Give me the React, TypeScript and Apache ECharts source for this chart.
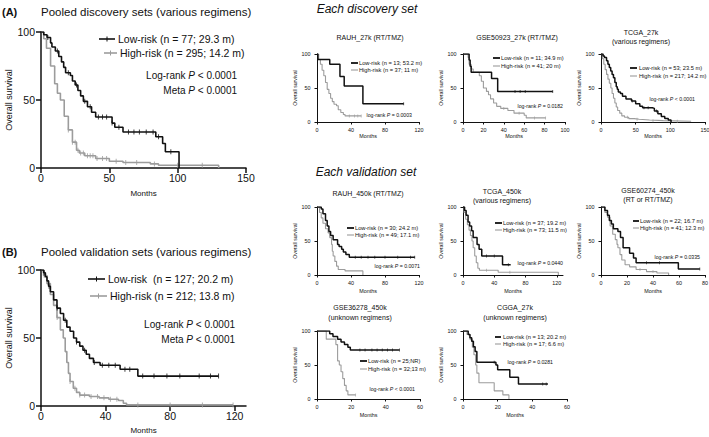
import React, { useEffect, useRef } from "react";
import * as echarts from "echarts";

type Pt = [number, number];

const FONT = "'Liberation Sans', Arial, Helvetica, sans-serif";
const BLACK = "#111111";
const GRAY = "#9c9c9c";

// ---------- tick labels ----------
const Y_TICKS = [0, 50, 100];
const X_TICKS_150 = [0, 50, 100, 150];
const X_TICKS_120 = [0, 40, 80, 120];
const X_TICKS_100 = [0, 20, 40, 60, 80, 100];
const X_TICKS_80 = [0, 20, 40, 60, 80];
const X_TICKS_60 = [0, 20, 40, 60];

// ---------- (A) pooled discovery ----------
const A_LOW: Pt[] = [[0,100],[2,98],[4.4,96],[7,92],[8,89],[10.5,86],[13,82],[15,78],[16.6,74],[18,70],[21.5,68],[23,64],[25,61],[27,57],[29,53],[31,49],[34,45],[37,41],[40,37.5],[52,33],[54,30],[60,26.5],[84,23],[89,18],[91,12],[101,0]];
const A_HIGH: Pt[] = [[0,100],[2,95],[4,88],[7,75],[10,62],[12,55],[14.2,50],[17,38],[20,28],[23,19],[26,13],[28,11],[32,9],[40,7],[50,5],[60,4],[80,3],[86,2],[130,0]];
const A_LOW_CENS = [5, 12, 20, 26, 32, 36, 42, 45, 48, 52, 57, 64, 68, 72, 77, 82, 86, 95];
const A_HIGH_CENS = [20, 23, 25, 27, 29, 31, 34, 36, 38, 41, 45, 48, 55, 62, 70, 83, 100, 118];

// ---------- (B) pooled validation ----------
const B_LOW: Pt[] = [[0,100],[1.6,98],[2.7,95],[3.7,92],[4.7,88],[5.8,84],[7.8,78],[9.9,72],[12,68],[14,63],[16,58],[18,55],[20.2,50],[22,47],[24,44],[26,41],[28,38],[30,35],[32.5,32],[36.6,30],[49,27],[60,22],[110,22]];
const B_HIGH: Pt[] = [[0,100],[1.6,96],[3.7,90],[5.8,82],[7.8,74],[9.9,65],[12,56],[13.8,50],[15,40],[16,32],[17,24],[18,18],[20,13],[22,10],[24,8],[30,7],[36,6],[42,5],[48,4],[51,2],[53,0.8],[119,0.8]];
const B_LOW_CENS = [2, 5, 10, 15, 22, 27, 33, 38, 42, 46, 52, 55, 63, 70, 78, 86, 98, 105, 110];
const B_HIGH_CENS = [2, 10, 18, 21, 24, 27, 31, 35, 39, 43, 47, 60, 80, 100, 119];

// ---------- each discovery set ----------
const RAUH27_LOW: Pt[] = [[0,100],[1,92],[15,85],[27,67],[32,53],[54,27],[102,27]];
const RAUH27_HIGH: Pt[] = [[0,100],[2,92],[4,85],[6,76],[8,68],[10,58],[12,48],[14,42],[16,35],[18,30],[20,26],[23,24],[25,18],[28,14],[31,11],[33,9],[52,9]];
const RAUH27_LOW_CENS = [102];
const RAUH27_HIGH_CENS = [38, 44, 48, 52];

const GSE50923_LOW: Pt[] = [[0,100],[6,91],[7,82],[8,73],[28,64],[34,45],[88,45]];
const GSE50923_HIGH: Pt[] = [[0,100],[5,95],[6,85],[8,78],[10,73],[16,68],[18,60],[20,50],[23,45],[25,40],[27,34],[30,28],[33,23],[37,20],[44,17],[50,13],[60,10],[62,6],[81,6]];
const GSE50923_LOW_CENS = [51, 56, 61, 88];
const GSE50923_HIGH_CENS = [40, 55, 70, 81];

const TCGA27_LOW: Pt[] = [[0,100],[3,97],[5,95],[8,90],[10,85],[12,80],[14,75],[16,70],[18,65],[20,58],[22,52],[23.5,48],[25,44],[28,42],[31,38],[36,34],[44,31],[50,27],[56,23],[60,21],[74,20],[77,16],[82,12],[87,8],[92,5],[97,3],[101,0]];
const TCGA27_HIGH: Pt[] = [[0,100],[2,93],[4,85],[6,77],[8,70],[10,63],[12,57],[14.2,50],[16,42],[18,35],[20,28],[22,22],[24,17],[27,13],[30,9],[34,7],[40,5],[48,4],[55,3],[70,2],[90,1],[130,1]];
const TCGA27_LOW_CENS = [45, 62, 68, 80];
const TCGA27_HIGH_CENS = [38, 52, 75, 110];

// ---------- each validation set ----------
const RAUH450_LOW: Pt[] = [[0,100],[5,97],[7,90],[10,80],[12,72],[14,64],[16,58],[19,52],[24.2,45],[26,42],[29,38],[31,34],[34,30],[38,26],[115,26]];
const RAUH450_HIGH: Pt[] = [[0,100],[3,92],[5,84],[7,76],[10,68],[13,62],[15,55],[17.1,45],[18,35],[19,28],[21,20],[23,13],[25,8],[33,6],[54,0]];
const RAUH450_LOW_CENS = [45, 52, 60, 68, 80, 95, 110, 115];
const RAUH450_HIGH_CENS: number[] = [];

const TCGA450_LOW: Pt[] = [[0,100],[2,95],[4,88],[6.5,78],[8.5,72],[11,65],[13,55],[18,45],[20.6,38],[24,28],[50.6,15],[61,15]];
const TCGA450_HIGH: Pt[] = [[0,100],[1.3,92],[3.4,82],[5.6,74],[7.7,66],[9.5,58],[11.5,50],[13,40],[15,28],[17,18],[19,10],[21,7],[45,4],[122,0]];
const TCGA450_LOW_CENS = [30, 40, 58];
const TCGA450_HIGH_CENS = [30, 60];

const GSE60274_LOW: Pt[] = [[0,100],[3,95],[5,88],[6.4,80],[8,75],[9.5,68],[13,64],[15,55],[17,40],[22,32],[25,25],[27,18],[59.5,9],[76,9]];
const GSE60274_HIGH: Pt[] = [[0,100],[3,92],[5,85],[7,72],[9,60],[11,52],[12.3,45],[13,40],[14.6,30],[16,22],[18.5,15],[22,12],[27,8],[35,5],[43,3],[52,0]];
const GSE60274_LOW_CENS = [35, 45, 76];
const GSE60274_HIGH_CENS = [30, 40];

const GSE36278_LOW: Pt[] = [[0,100],[7.4,96],[9.3,92],[12,88],[14,84],[16,80],[18,76],[19.4,72],[48,72]];
const GSE36278_HIGH: Pt[] = [[0,100],[5.4,88],[11,80],[12,56],[13,50],[14,40],[15,30],[16,20],[17,12],[18,6],[22.5,6]];
const GSE36278_LOW_CENS = [25, 28, 32, 35, 38, 41, 44, 48];
const GSE36278_HIGH_CENS = [22.5];

const CGGA_LOW: Pt[] = [[0,100],[3,95],[4,90],[5,85],[6,77],[7,70],[8,54],[19,50],[20,43],[27,32],[32,22],[49,22]];
const CGGA_HIGH: Pt[] = [[0,100],[2.3,95],[4,88],[5.4,76],[6.3,65],[7.3,50],[8,38],[9.2,24],[18,12],[23,6],[26.5,0]];
const CGGA_LOW_CENS = [18, 46, 48];
const CGGA_HIGH_CENS: number[] = [];

// ---------- layout (pixels) ----------
interface Panel {
  low: Pt[]; high: Pt[]; lowC: number[]; highC: number[];
  xTicks: number[]; xMax: number;
  left: number; top: number; width: number; height: number;
  big: boolean; gapX: number; gapY: number;
}

const PANELS: Panel[] = [
  { low: A_LOW, high: A_HIGH, lowC: A_LOW_CENS, highC: A_HIGH_CENS, xTicks: X_TICKS_150, xMax: 150, left: 41, top: 32, width: 205, height: 136, big: true, gapX: 21, gapY: 27 },
  { low: B_LOW, high: B_HIGH, lowC: B_LOW_CENS, highC: B_HIGH_CENS, xTicks: X_TICKS_120, xMax: 127, left: 41, top: 270, width: 205, height: 136, big: true, gapX: 20, gapY: 27 },
  { low: RAUH27_LOW, high: RAUH27_HIGH, lowC: RAUH27_LOW_CENS, highC: RAUH27_HIGH_CENS, xTicks: X_TICKS_120, xMax: 120, left: 317, top: 54, width: 102, height: 68, big: false, gapX: 11, gapY: 17 },
  { low: GSE50923_LOW, high: GSE50923_HIGH, lowC: GSE50923_LOW_CENS, highC: GSE50923_HIGH_CENS, xTicks: X_TICKS_100, xMax: 100, left: 463, top: 54, width: 102, height: 68, big: false, gapX: 11, gapY: 17 },
  { low: TCGA27_LOW, high: TCGA27_HIGH, lowC: TCGA27_LOW_CENS, highC: TCGA27_HIGH_CENS, xTicks: X_TICKS_150, xMax: 150, left: 601, top: 54, width: 104, height: 68, big: false, gapX: 11, gapY: 17 },
  { low: RAUH450_LOW, high: RAUH450_HIGH, lowC: RAUH450_LOW_CENS, highC: RAUH450_HIGH_CENS, xTicks: X_TICKS_120, xMax: 120, left: 317, top: 207, width: 102, height: 68, big: false, gapX: 13, gapY: 17 },
  { low: TCGA450_LOW, high: TCGA450_HIGH, lowC: TCGA450_LOW_CENS, highC: TCGA450_HIGH_CENS, xTicks: X_TICKS_120, xMax: 128, left: 463, top: 207, width: 100, height: 68, big: false, gapX: 13, gapY: 17 },
  { low: GSE60274_LOW, high: GSE60274_HIGH, lowC: GSE60274_LOW_CENS, highC: GSE60274_HIGH_CENS, xTicks: X_TICKS_80, xMax: 80, left: 601, top: 207, width: 104, height: 68, big: false, gapX: 13, gapY: 17 },
  { low: GSE36278_LOW, high: GSE36278_HIGH, lowC: GSE36278_LOW_CENS, highC: GSE36278_HIGH_CENS, xTicks: X_TICKS_60, xMax: 60, left: 317, top: 331, width: 103, height: 68, big: false, gapX: 13.5, gapY: 17 },
  { low: CGGA_LOW, high: CGGA_HIGH, lowC: CGGA_LOW_CENS, highC: CGGA_HIGH_CENS, xTicks: X_TICKS_60, xMax: 60, left: 463, top: 331, width: 104, height: 68, big: false, gapX: 13.5, gapY: 17 },
];

interface Leg { x1: number; x2: number; tx: number; yl: number; yh: number; lt: string; ht: string; px: number; py: number; pt: string; big: boolean; hx?: number; htx?: number; }
const LEGENDS: Leg[] = [
  { x1: 99, x2: 115, tx: 118, yl: 39, yh: 53, lt: "Low-risk (n = 77; 29.3 m)", ht: "High-risk (n = 295; 14.2 m)", px: 237, py: 75, pt: "Log-rank {i|P} < 0.0001", big: true, hx: 104, htx: 120 },
  { x1: 88, x2: 105, tx: 108, yl: 279, yh: 296, lt: "Low-risk  (n = 127; 20.2 m)", ht: "High-risk (n = 212; 13.8 m)", px: 235, py: 324, pt: "Log-rank {i|P} < 0.0001", big: true, hx: 90, htx: 110 },
  { x1: 351, x2: 358, tx: 359, yl: 63, yh: 70, lt: "Low-risk (n = 13; 53.2 m)", ht: "High-risk (n = 37; 11 m)", px: 412, py: 115, pt: "log-rank {i|P} = 0.0003", big: false },
  { x1: 493, x2: 500, tx: 501, yl: 58, yh: 66, lt: "Low-risk (n = 11; 34.9 m)", ht: "High-risk (n = 41; 20 m)", px: 563, py: 106, pt: "log-rank {i|P} = 0.0182", big: false },
  { x1: 630, x2: 637, tx: 639, yl: 68, yh: 76, lt: "Low-risk (n = 53; 23.5 m)", ht: "High-risk (n = 217; 14.2 m)", px: 695, py: 99, pt: "log-rank {i|P} < 0.0001", big: false },
  { x1: 347, x2: 354, tx: 355, yl: 228, yh: 235, lt: "Low-risk (n = 30; 24.2 m)", ht: "High-risk (n = 49; 17.1 m)", px: 420, py: 266, pt: "log-rank {i|P} = 0.0071", big: false },
  { x1: 495, x2: 502, tx: 503, yl: 223, yh: 230, lt: "Low-risk (n = 37; 19.2 m)", ht: "High-risk (n = 73; 11.5 m)", px: 563, py: 263, pt: "log-rank {i|P} = 0.0440", big: false },
  { x1: 633, x2: 639, tx: 640, yl: 221, yh: 228, lt: "Low-risk (n = 22; 16.7 m)", ht: "High-risk (n = 41; 12.3 m)", px: 700, py: 257, pt: "log-rank {i|P} = 0.0335", big: false },
  { x1: 360, x2: 367, tx: 368, yl: 361, yh: 369, lt: "Low-risk (n = 25;NR)", ht: "High-risk (n = 32;13 m)", px: 415, py: 389, pt: "log-rank {i|P} < 0.0001", big: false },
  { x1: 495, x2: 501, tx: 503, yl: 337, yh: 344, lt: "Low-risk (n = 13; 20.2 m)", ht: "High-risk (n = 17; 6.6 m)", px: 553, py: 362, pt: "log-rank {i|P} = 0.0281", big: false },
];

const TITLES: [number, number, string, number, string, boolean, boolean][] = [
  [2, 12, "(A)", 11, "left", true, false],
  [41, 12, "Pooled discovery sets (various regimens)", 11.5, "left", false, false],
  [2, 252, "(B)", 11, "left", true, false],
  [41, 252, "Pooled validation sets (various regimens)", 11.5, "left", false, false],
  [367, 9, "Each discovery set", 12, "center", false, true],
  [366, 172, "Each validation set", 12, "center", false, true],
  [370, 37, "RAUH_27k (RT/TMZ)", 7, "center", false, false],
  [517, 37, "GSE50923_27k (RT/TMZ)", 7, "center", false, false],
  [641, 32, "TCGA_27k", 7, "center", false, false],
  [641, 41, "(various regimens)", 7, "center", false, false],
  [368, 193, "RAUH_450k (RT/TMZ)", 7, "center", false, false],
  [502, 191, "TCGA_450k", 7, "center", false, false],
  [502, 200, "(various regimens)", 7, "center", false, false],
  [648, 190, "GSE60274_450k", 7, "center", false, false],
  [648, 199, "(RT or RT/TMZ)", 7, "center", false, false],
  [360, 307, "GSE36278_450k", 7, "center", false, false],
  [360, 317, "(unknown regimens)", 7, "center", false, false],
  [515, 307, "CGGA_27k", 7, "center", false, false],
  [515, 317, "(unknown regimens)", 7, "center", false, false],
];

function stepAt(curve: Pt[], t: number): number {
  let s = curve[0][1];
  for (const [x, y] of curve) {
    if (x <= t) s = y;
    else break;
  }
  return s;
}

function txt(x: number, y: number, text: string, fs: number, o: any = {}) {
  const fill = o.fill || BLACK;
  return {
    type: "text", x, y, silent: true, z: 10,
    style: {
      text, fontSize: fs, fontFamily: FONT, fill,
      align: o.align || "left", verticalAlign: "middle",
      textAlign: o.align || "left", textVerticalAlign: "middle",
      fontWeight: o.bold ? "bold" : "normal",
      fontStyle: o.italic ? "italic" : "normal",
      rich: { i: { fontStyle: "italic", fontSize: fs, fontFamily: FONT, fill } },
    },
  };
}

function line(x1: number, y1: number, x2: number, y2: number, stroke: string, w: number) {
  return { type: "line", silent: true, z: 10, shape: { x1, y1, x2, y2 }, style: { stroke, lineWidth: w } };
}

function buildOption() {
  const grid: any[] = [];
  const xAxis: any[] = [];
  const yAxis: any[] = [];
  const series: any[] = [];

  PANELS.forEach((p, i) => {
    const big = p.big;
    const axW = big ? 1.5 : 1;
    const tickFs = big ? 10.5 : 5.4;
    const nameFs = big ? 8 : 5.4;
    const yNameFs = big ? 9 : 5.2;
    const tickLen = big ? 5 : 2.5;
    grid.push({ left: p.left, top: p.top, width: p.width, height: p.height, containLabel: false, outerBoundsMode: "none" });
    xAxis.push({
      gridIndex: i, type: "value", min: 0, max: p.xMax,
      axisLine: { show: true, onZero: false, lineStyle: { color: BLACK, width: axW } },
      axisTick: { show: true, length: tickLen, customValues: p.xTicks, lineStyle: { color: BLACK, width: axW } },
      axisLabel: { customValues: p.xTicks, fontSize: tickFs, fontFamily: FONT, color: BLACK, margin: big ? 4 : 5.5, showMaxLabel: true, hideOverlap: false },
      splitLine: { show: false },
      name: "Months", nameLocation: "middle", nameGap: p.gapX,
      nameTextStyle: { fontSize: nameFs, fontFamily: FONT, color: BLACK },
    });
    yAxis.push({
      gridIndex: i, type: "value", min: 0, max: 100, interval: 50,
      axisLine: { show: true, onZero: false, lineStyle: { color: BLACK, width: axW } },
      axisTick: { show: true, length: tickLen, customValues: Y_TICKS, lineStyle: { color: BLACK, width: axW } },
      axisLabel: { customValues: Y_TICKS, fontSize: tickFs, fontFamily: FONT, color: BLACK, margin: big ? 6 : 6.5 },
      splitLine: { show: false },
      name: "Overall survival", nameLocation: "middle", nameGap: p.gapY,
      nameTextStyle: { fontSize: yNameFs, fontFamily: FONT, color: BLACK },
    });
    const lw = big ? 1.6 : 1.1;
    const lwB = big ? 1.6 : 1.5;
    series.push({
      type: "line", xAxisIndex: i, yAxisIndex: i, data: p.high, step: "end",
      showSymbol: false, symbol: "none", silent: true, z: 2,
      lineStyle: { color: GRAY, width: lw }, itemStyle: { color: GRAY },
    });
    series.push({
      type: "line", xAxisIndex: i, yAxisIndex: i, data: p.low, step: "end",
      showSymbol: false, symbol: "none", silent: true, z: 3,
      lineStyle: { color: BLACK, width: lwB }, itemStyle: { color: BLACK },
    });
    const cs = big ? [1, 5] : [0.8, 3];
    series.push({
      type: "scatter", xAxisIndex: i, yAxisIndex: i, silent: true, z: 2,
      symbol: "rect", symbolSize: cs, itemStyle: { color: GRAY },
      data: p.highC.map((t) => [t, stepAt(p.high, t)]),
    });
    series.push({
      type: "scatter", xAxisIndex: i, yAxisIndex: i, silent: true, z: 3,
      symbol: "rect", symbolSize: cs, itemStyle: { color: BLACK },
      data: p.lowC.map((t) => [t, stepAt(p.low, t)]),
    });
  });

  const elements: any[] = [];
  TITLES.forEach(([x, y, t, fs, align, bold, italic]) => {
    elements.push(txt(x, y, t, fs, { align, bold, italic }));
  });
  LEGENDS.forEach((l) => {
    const fs = l.big ? 10.5 : 5.7;
    const pfs = l.big ? 10 : 5.2;
    const hx = l.hx ?? l.x1;
    const htx = l.htx ?? l.tx;
    elements.push(line(l.x1, l.yl, l.x2, l.yl, BLACK, l.big ? 1.6 : 1.8));
    elements.push(line(hx, l.yh, l.x2 + (l.big ? 2 : 0), l.yh, GRAY, l.big ? 1.6 : 1.1));
    if (l.big) {
      const mx = (l.x1 + l.x2) / 2;
      elements.push(line(mx, l.yl - 2.5, mx, l.yl + 2.5, BLACK, 1));
      const mh = (hx + l.x2 + 2) / 2;
      elements.push(line(mh, l.yh - 2.5, mh, l.yh + 2.5, GRAY, 1));
    }
    elements.push(txt(l.tx, l.yl, l.lt, fs));
    elements.push(txt(htx, l.yh, l.ht, fs));
    elements.push(txt(l.px, l.py, l.pt, pfs, { align: "right" }));
    if (l.big) {
      elements.push(txt(l.px, l.py + 15, "Meta {i|P} < 0.0001", pfs, { align: "right" }));
    }
  });

  return {
    animation: false,
    backgroundColor: "#ffffff",
    textStyle: { fontFamily: FONT },
    grid, xAxis, yAxis, series,
    graphic: { elements },
  };
}

export default function App() {
  const ref = useRef<HTMLDivElement>(null);
  useEffect(() => {
    document.body.style.margin = "0";
    if (!ref.current) return;
    const chart = echarts.init(ref.current, undefined, { renderer: "svg" });
    chart.setOption(buildOption() as any);
    return () => chart.dispose();
  }, []);
  return <div ref={ref} style={{ width: 709, height: 437, background: "#fff" }} />;
}
